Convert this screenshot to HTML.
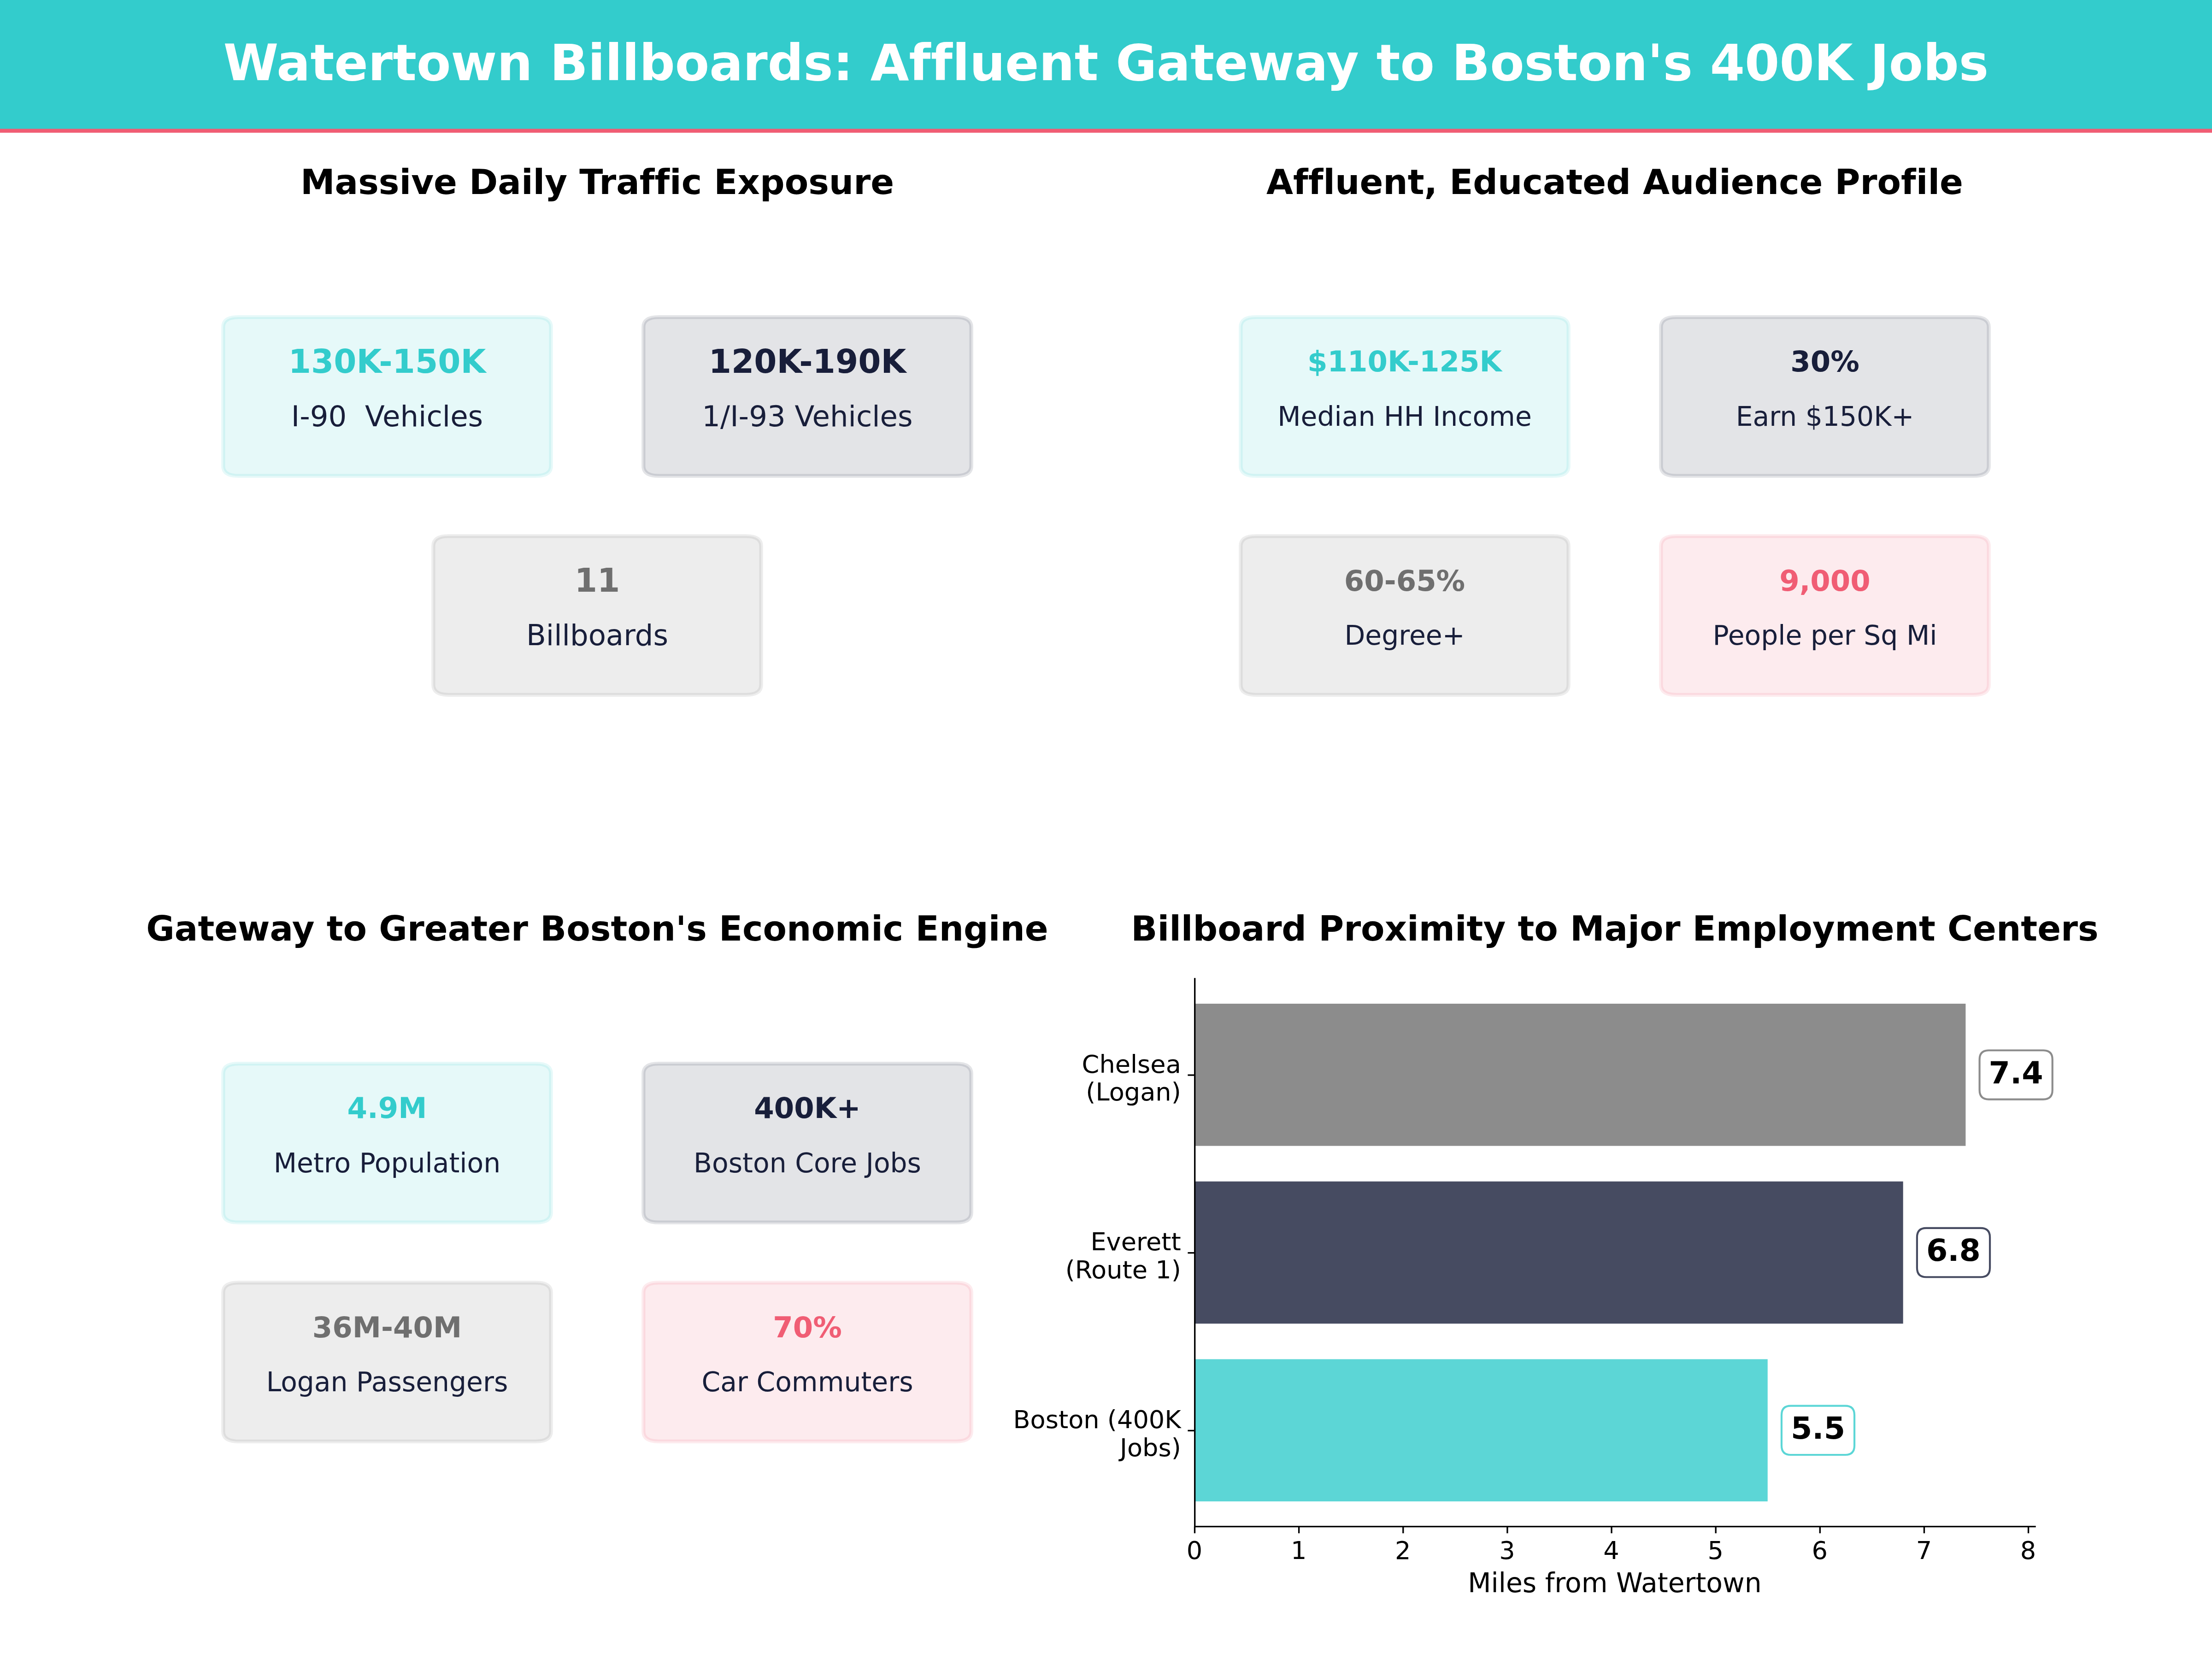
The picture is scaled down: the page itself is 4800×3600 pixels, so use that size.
<!DOCTYPE html>
<html lang="en"><head><meta charset="utf-8"><title>Watertown Billboards</title>
<style>
html,body{margin:0;padding:0;background:#fff;}
body{width:4800px;height:3600px;overflow:hidden;}
svg{display:block;font-family:"DejaVu Sans", "Liberation Sans", sans-serif;}
text{white-space:pre;font-variant-ligatures:none;font-feature-settings:"liga" 0,"clig" 0;font-kerning:normal;}
</style></head><body>
<svg width="4800" height="3600" viewBox="0 0 4800 3600">
<rect x="0" y="0" width="4800" height="288" fill="#33CCCC"/>
<rect x="0" y="279.5" width="4800" height="8.5" fill="#F05D74"/>
<text x="2400.00" y="173.89" font-size="108.333" font-weight="bold" fill="#fff" text-anchor="middle">Watertown Billboards: Affluent Gateway to Boston's 400K Jobs</text>
<text x="1296.00" y="420.67" font-size="75.000" font-weight="bold" fill="#000" text-anchor="middle">Massive Daily Traffic Exposure</text>
<path d="M517.32,688.14 L1162.68,688.14 Q1195.68,688.14 1195.68,709.64 L1195.68,1011.16 Q1195.68,1032.66 1162.68,1032.66 L517.32,1032.66 Q484.32,1032.66 484.32,1011.16 L484.32,709.64 Q484.32,688.14 517.32,688.14 Z" fill="#33CCCC" fill-opacity="0.12" stroke="#33CCCC" stroke-opacity="0.12" stroke-width="8.333" stroke-linejoin="miter"/>
<text x="840.00" y="808.66" font-size="70.833" font-weight="bold" fill="#33CCCC" text-anchor="middle">130K-150K</text>
<text x="840.00" y="925.16" font-size="62.500" font-weight="normal" fill="#181E3A" text-anchor="middle">I-90  Vehicles</text>
<path d="M1429.32,688.14 L2074.68,688.14 Q2107.68,688.14 2107.68,709.64 L2107.68,1011.16 Q2107.68,1032.66 2074.68,1032.66 L1429.32,1032.66 Q1396.32,1032.66 1396.32,1011.16 L1396.32,709.64 Q1396.32,688.14 1429.32,688.14 Z" fill="#181E3A" fill-opacity="0.12" stroke="#181E3A" stroke-opacity="0.12" stroke-width="8.333" stroke-linejoin="miter"/>
<text x="1752.00" y="808.66" font-size="70.833" font-weight="bold" fill="#181E3A" text-anchor="middle">120K-190K</text>
<text x="1752.00" y="925.16" font-size="62.500" font-weight="normal" fill="#181E3A" text-anchor="middle">1/I-93 Vehicles</text>
<path d="M973.32,1163.34 L1618.68,1163.34 Q1651.68,1163.34 1651.68,1184.84 L1651.68,1486.36 Q1651.68,1507.86 1618.68,1507.86 L973.32,1507.86 Q940.32,1507.86 940.32,1486.36 L940.32,1184.84 Q940.32,1163.34 973.32,1163.34 Z" fill="#6F6F6F" fill-opacity="0.12" stroke="#6F6F6F" stroke-opacity="0.12" stroke-width="8.333" stroke-linejoin="miter"/>
<text x="1296.00" y="1283.86" font-size="70.833" font-weight="bold" fill="#6F6F6F" text-anchor="middle">11</text>
<text x="1296.00" y="1400.36" font-size="62.500" font-weight="normal" fill="#181E3A" text-anchor="middle">Billboards</text>
<text x="3504.00" y="420.67" font-size="75.000" font-weight="bold" fill="#000" text-anchor="middle">Affluent, Educated Audience Profile</text>
<path d="M2725.32,688.14 L3370.68,688.14 Q3403.68,688.14 3403.68,709.64 L3403.68,1011.16 Q3403.68,1032.66 3370.68,1032.66 L2725.32,1032.66 Q2692.32,1032.66 2692.32,1011.16 L2692.32,709.64 Q2692.32,688.14 2725.32,688.14 Z" fill="#33CCCC" fill-opacity="0.12" stroke="#33CCCC" stroke-opacity="0.12" stroke-width="8.333" stroke-linejoin="miter"/>
<text x="3048.00" y="806.36" font-size="62.500" font-weight="bold" fill="#33CCCC" text-anchor="middle">$110K-125K</text>
<text x="3048.00" y="924.01" font-size="58.333" font-weight="normal" fill="#181E3A" text-anchor="middle">Median HH Income</text>
<path d="M3637.32,688.14 L4282.68,688.14 Q4315.68,688.14 4315.68,709.64 L4315.68,1011.16 Q4315.68,1032.66 4282.68,1032.66 L3637.32,1032.66 Q3604.32,1032.66 3604.32,1011.16 L3604.32,709.64 Q3604.32,688.14 3637.32,688.14 Z" fill="#181E3A" fill-opacity="0.12" stroke="#181E3A" stroke-opacity="0.12" stroke-width="8.333" stroke-linejoin="miter"/>
<text x="3960.00" y="806.36" font-size="62.500" font-weight="bold" fill="#181E3A" text-anchor="middle">30%</text>
<text x="3960.00" y="924.01" font-size="58.333" font-weight="normal" fill="#181E3A" text-anchor="middle">Earn $150K+</text>
<path d="M2725.32,1163.34 L3370.68,1163.34 Q3403.68,1163.34 3403.68,1184.84 L3403.68,1486.36 Q3403.68,1507.86 3370.68,1507.86 L2725.32,1507.86 Q2692.32,1507.86 2692.32,1486.36 L2692.32,1184.84 Q2692.32,1163.34 2725.32,1163.34 Z" fill="#6F6F6F" fill-opacity="0.12" stroke="#6F6F6F" stroke-opacity="0.12" stroke-width="8.333" stroke-linejoin="miter"/>
<text x="3048.00" y="1281.56" font-size="62.500" font-weight="bold" fill="#6F6F6F" text-anchor="middle">60-65%</text>
<text x="3048.00" y="1399.21" font-size="58.333" font-weight="normal" fill="#181E3A" text-anchor="middle">Degree+</text>
<path d="M3637.32,1163.34 L4282.68,1163.34 Q4315.68,1163.34 4315.68,1184.84 L4315.68,1486.36 Q4315.68,1507.86 4282.68,1507.86 L3637.32,1507.86 Q3604.32,1507.86 3604.32,1486.36 L3604.32,1184.84 Q3604.32,1163.34 3637.32,1163.34 Z" fill="#F05D74" fill-opacity="0.12" stroke="#F05D74" stroke-opacity="0.12" stroke-width="8.333" stroke-linejoin="miter"/>
<text x="3960.00" y="1281.56" font-size="62.500" font-weight="bold" fill="#F05D74" text-anchor="middle">9,000</text>
<text x="3960.00" y="1399.21" font-size="58.333" font-weight="normal" fill="#181E3A" text-anchor="middle">People per Sq Mi</text>
<text x="1296.00" y="2040.67" font-size="75.000" font-weight="bold" fill="#000" text-anchor="middle">Gateway to Greater Boston's Economic Engine</text>
<path d="M517.32,2308.14 L1162.68,2308.14 Q1195.68,2308.14 1195.68,2329.64 L1195.68,2631.16 Q1195.68,2652.66 1162.68,2652.66 L517.32,2652.66 Q484.32,2652.66 484.32,2631.16 L484.32,2329.64 Q484.32,2308.14 517.32,2308.14 Z" fill="#33CCCC" fill-opacity="0.12" stroke="#33CCCC" stroke-opacity="0.12" stroke-width="8.333" stroke-linejoin="miter"/>
<text x="840.00" y="2426.36" font-size="62.500" font-weight="bold" fill="#33CCCC" text-anchor="middle">4.9M</text>
<text x="840.00" y="2544.01" font-size="58.333" font-weight="normal" fill="#181E3A" text-anchor="middle">Metro Population</text>
<path d="M1429.32,2308.14 L2074.68,2308.14 Q2107.68,2308.14 2107.68,2329.64 L2107.68,2631.16 Q2107.68,2652.66 2074.68,2652.66 L1429.32,2652.66 Q1396.32,2652.66 1396.32,2631.16 L1396.32,2329.64 Q1396.32,2308.14 1429.32,2308.14 Z" fill="#181E3A" fill-opacity="0.12" stroke="#181E3A" stroke-opacity="0.12" stroke-width="8.333" stroke-linejoin="miter"/>
<text x="1752.00" y="2426.36" font-size="62.500" font-weight="bold" fill="#181E3A" text-anchor="middle">400K+</text>
<text x="1752.00" y="2544.01" font-size="58.333" font-weight="normal" fill="#181E3A" text-anchor="middle">Boston Core Jobs</text>
<path d="M517.32,2783.34 L1162.68,2783.34 Q1195.68,2783.34 1195.68,2804.84 L1195.68,3106.36 Q1195.68,3127.86 1162.68,3127.86 L517.32,3127.86 Q484.32,3127.86 484.32,3106.36 L484.32,2804.84 Q484.32,2783.34 517.32,2783.34 Z" fill="#6F6F6F" fill-opacity="0.12" stroke="#6F6F6F" stroke-opacity="0.12" stroke-width="8.333" stroke-linejoin="miter"/>
<text x="840.00" y="2901.56" font-size="62.500" font-weight="bold" fill="#6F6F6F" text-anchor="middle">36M-40M</text>
<text x="840.00" y="3019.21" font-size="58.333" font-weight="normal" fill="#181E3A" text-anchor="middle">Logan Passengers</text>
<path d="M1429.32,2783.34 L2074.68,2783.34 Q2107.68,2783.34 2107.68,2804.84 L2107.68,3106.36 Q2107.68,3127.86 2074.68,3127.86 L1429.32,3127.86 Q1396.32,3127.86 1396.32,3106.36 L1396.32,2804.84 Q1396.32,2783.34 1429.32,2783.34 Z" fill="#F05D74" fill-opacity="0.12" stroke="#F05D74" stroke-opacity="0.12" stroke-width="8.333" stroke-linejoin="miter"/>
<text x="1752.00" y="2901.56" font-size="62.500" font-weight="bold" fill="#F05D74" text-anchor="middle">70%</text>
<text x="1752.00" y="3019.21" font-size="58.333" font-weight="normal" fill="#181E3A" text-anchor="middle">Car Commuters</text>
<text x="3504.00" y="2040.67" font-size="75.000" font-weight="bold" fill="#000" text-anchor="middle">Billboard Proximity to Major Employment Centers</text>
<rect x="2592.00" y="2949.43" width="1243.74" height="308.57" fill="#33CCCC" fill-opacity="0.8"/>
<rect x="2592.00" y="2563.71" width="1537.71" height="308.57" fill="#181E3A" fill-opacity="0.8"/>
<rect x="2592.00" y="2178.00" width="1673.39" height="308.57" fill="#6F6F6F" fill-opacity="0.8"/>
<line x1="2592.7" y1="2122.33" x2="2592.7" y2="3314.27" stroke="#000" stroke-width="3.333"/>
<line x1="2591.03" y1="3312.6" x2="4417.67" y2="3312.6" stroke="#000" stroke-width="3.333"/>
<line x1="2592.50" y1="3312.6" x2="2592.50" y2="3327.18" stroke="#000" stroke-width="3.333"/>
<text x="2592.00" y="3383.00" font-size="54.167" font-weight="normal" fill="#000" text-anchor="middle">0</text>
<line x1="2818.63" y1="3312.6" x2="2818.63" y2="3327.18" stroke="#000" stroke-width="3.333"/>
<text x="2818.13" y="3383.00" font-size="54.167" font-weight="normal" fill="#000" text-anchor="middle">1</text>
<line x1="3044.77" y1="3312.6" x2="3044.77" y2="3327.18" stroke="#000" stroke-width="3.333"/>
<text x="3044.27" y="3383.00" font-size="54.167" font-weight="normal" fill="#000" text-anchor="middle">2</text>
<line x1="3270.90" y1="3312.6" x2="3270.90" y2="3327.18" stroke="#000" stroke-width="3.333"/>
<text x="3270.40" y="3383.00" font-size="54.167" font-weight="normal" fill="#000" text-anchor="middle">3</text>
<line x1="3497.04" y1="3312.6" x2="3497.04" y2="3327.18" stroke="#000" stroke-width="3.333"/>
<text x="3496.54" y="3383.00" font-size="54.167" font-weight="normal" fill="#000" text-anchor="middle">4</text>
<line x1="3723.17" y1="3312.6" x2="3723.17" y2="3327.18" stroke="#000" stroke-width="3.333"/>
<text x="3722.67" y="3383.00" font-size="54.167" font-weight="normal" fill="#000" text-anchor="middle">5</text>
<line x1="3949.31" y1="3312.6" x2="3949.31" y2="3327.18" stroke="#000" stroke-width="3.333"/>
<text x="3948.81" y="3383.00" font-size="54.167" font-weight="normal" fill="#000" text-anchor="middle">6</text>
<line x1="4175.44" y1="3312.6" x2="4175.44" y2="3327.18" stroke="#000" stroke-width="3.333"/>
<text x="4174.94" y="3383.00" font-size="54.167" font-weight="normal" fill="#000" text-anchor="middle">7</text>
<line x1="4401.58" y1="3312.6" x2="4401.58" y2="3327.18" stroke="#000" stroke-width="3.333"/>
<text x="4401.08" y="3383.00" font-size="54.167" font-weight="normal" fill="#000" text-anchor="middle">8</text>
<text x="3504.00" y="3455.00" font-size="58.333" font-weight="normal" fill="#000" text-anchor="middle">Miles from Watertown</text>
<line x1="2577.42" y1="3104.41" x2="2592" y2="3104.41" stroke="#000" stroke-width="3.333"/>
<text x="2562.83" y="3099.11" font-size="54.167" font-weight="normal" fill="#000" text-anchor="end">Boston (400K</text>
<text x="2562.83" y="3159.71" font-size="54.167" font-weight="normal" fill="#000" text-anchor="end">Jobs)</text>
<path d="M3885.94,3050.65 L4004.07,3050.65 Q4024.07,3050.65 4024.07,3070.65 L4024.07,3136.97 Q4024.07,3156.97 4004.07,3156.97 L3885.94,3156.97 Q3865.94,3156.97 3865.94,3136.97 L3865.94,3070.65 Q3865.94,3050.65 3885.94,3050.65 Z" fill="#fff" fill-opacity="0.8" stroke="#33CCCC" stroke-opacity="0.8" stroke-width="4.167" stroke-linejoin="miter"/>
<text x="3885.94" y="3122.11" font-size="66.667" font-weight="bold" fill="#000" text-anchor="start">5.5</text>
<line x1="2577.42" y1="2718.70" x2="2592" y2="2718.70" stroke="#000" stroke-width="3.333"/>
<text x="2562.83" y="2713.40" font-size="54.167" font-weight="normal" fill="#000" text-anchor="end">Everett</text>
<text x="2562.83" y="2774.00" font-size="54.167" font-weight="normal" fill="#000" text-anchor="end">(Route 1)</text>
<path d="M4179.91,2664.94 L4298.05,2664.94 Q4318.05,2664.94 4318.05,2684.94 L4318.05,2751.26 Q4318.05,2771.26 4298.05,2771.26 L4179.91,2771.26 Q4159.91,2771.26 4159.91,2751.26 L4159.91,2684.94 Q4159.91,2664.94 4179.91,2664.94 Z" fill="#fff" fill-opacity="0.8" stroke="#181E3A" stroke-opacity="0.8" stroke-width="4.167" stroke-linejoin="miter"/>
<text x="4179.91" y="2736.39" font-size="66.667" font-weight="bold" fill="#000" text-anchor="start">6.8</text>
<line x1="2577.42" y1="2332.99" x2="2592" y2="2332.99" stroke="#000" stroke-width="3.333"/>
<text x="2562.83" y="2327.69" font-size="54.167" font-weight="normal" fill="#000" text-anchor="end">Chelsea</text>
<text x="2562.83" y="2388.29" font-size="54.167" font-weight="normal" fill="#000" text-anchor="end">(Logan)</text>
<path d="M4315.59,2279.23 L4433.73,2279.23 Q4453.73,2279.23 4453.73,2299.23 L4453.73,2365.55 Q4453.73,2385.55 4433.73,2385.55 L4315.59,2385.55 Q4295.59,2385.55 4295.59,2365.55 L4295.59,2299.23 Q4295.59,2279.23 4315.59,2279.23 Z" fill="#fff" fill-opacity="0.8" stroke="#6F6F6F" stroke-opacity="0.8" stroke-width="4.167" stroke-linejoin="miter"/>
<text x="4315.59" y="2350.68" font-size="66.667" font-weight="bold" fill="#000" text-anchor="start">7.4</text>
</svg>
</body></html>
